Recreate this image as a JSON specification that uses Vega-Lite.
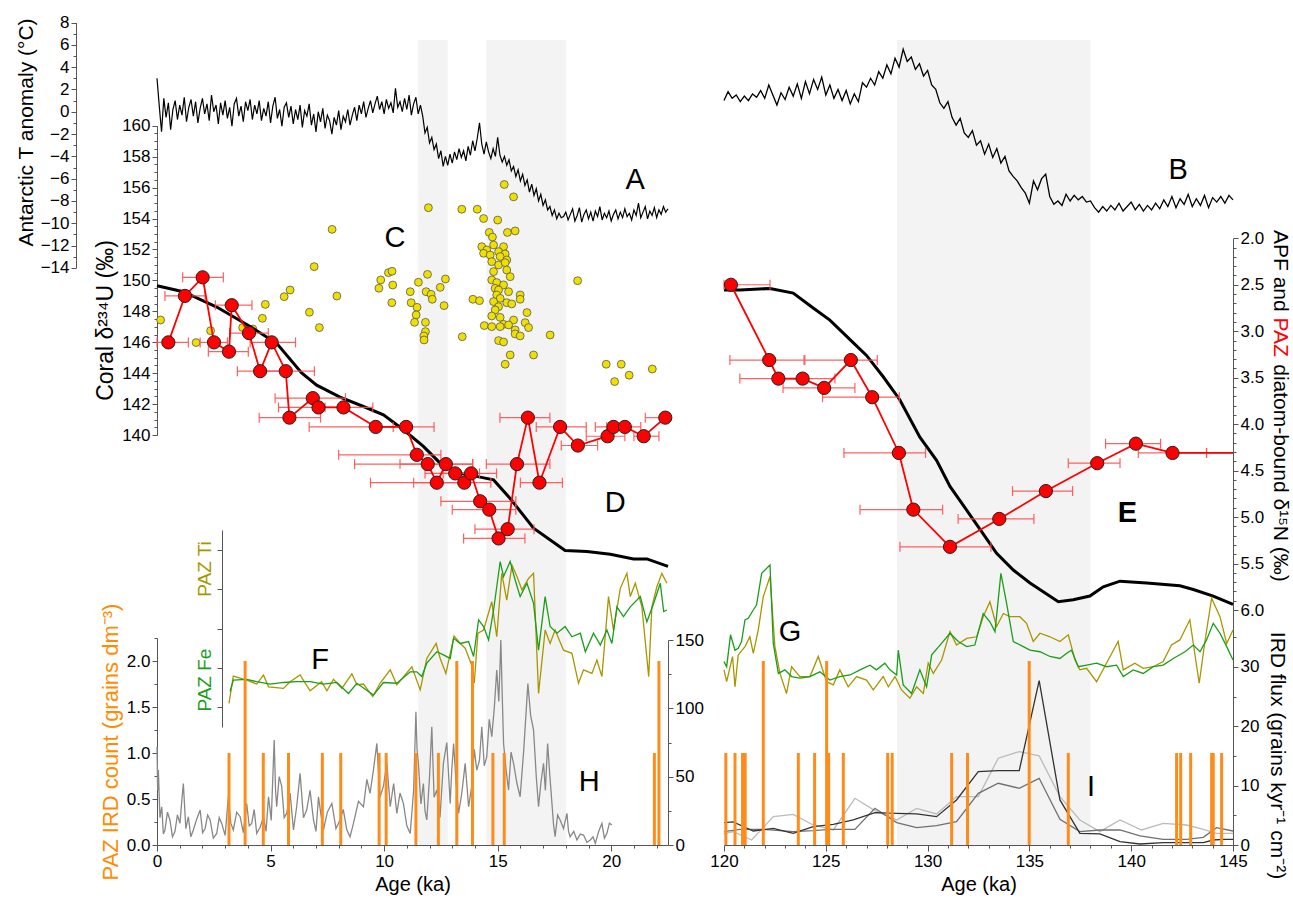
{
"$schema":"https://vega.github.io/schema/vega-lite/v6.json",
"width":1076,"height":845,
"autosize":{"type":"none"},
"padding":{"left":157,"top":0,"right":60,"bottom":54},
"config":{"view":{"stroke":null},"axis":{"grid":false,"labelFont":"Liberation Sans","titleFont":"Liberation Sans","labelFontSize":17,"titleFontSize":20,"titleFontWeight":"normal","domainColor":"#555","tickColor":"#555","labelColor":"#000","titleColor":"#000","tickSize":5,"labelOverlap":false,"labelFlush":false}},
"resolve":{"scale":{"x":"independent","y":"independent"}},
"datasets":{
"shL":[{"x1":11.5,"x2":12.8},{"x1":14.5,"x2":18.0}],
"shR":[{"x1":128.5,"x2":138.0}],
"tA":[{"a":0.0,"t":3.0},{"a":0.1,"t":0.5},{"a":0.2,"t":-1.8},{"a":0.3,"t":1.2},{"a":0.4,"t":-0.5},{"a":0.5,"t":0.8},{"a":0.6,"t":-1.6},{"a":0.7,"t":0.2},{"a":0.8,"t":1.0},{"a":0.9,"t":-0.7},{"a":1.0,"t":0.6},{"a":1.1,"t":-0.3},{"a":1.2,"t":1.3},{"a":1.3,"t":-0.9},{"a":1.4,"t":0.4},{"a":1.5,"t":1.1},{"a":1.6,"t":-0.4},{"a":1.7,"t":0.9},{"a":1.8,"t":-1.0},{"a":1.9,"t":0.3},{"a":2.0,"t":1.2},{"a":2.1,"t":-0.2},{"a":2.2,"t":0.7},{"a":2.3,"t":-0.8},{"a":2.4,"t":1.5},{"a":2.5,"t":0.0},{"a":2.6,"t":0.6},{"a":2.7,"t":-1.1},{"a":2.8,"t":0.8},{"a":2.9,"t":-0.3},{"a":3.0,"t":1.0},{"a":3.1,"t":-0.6},{"a":3.2,"t":0.4},{"a":3.3,"t":-1.3},{"a":3.4,"t":0.7},{"a":3.5,"t":1.2},{"a":3.6,"t":-0.4},{"a":3.7,"t":0.5},{"a":3.8,"t":-0.9},{"a":3.9,"t":0.9},{"a":4.0,"t":0.1},{"a":4.1,"t":1.1},{"a":4.2,"t":-0.7},{"a":4.3,"t":0.6},{"a":4.4,"t":-0.2},{"a":4.5,"t":1.0},{"a":4.6,"t":-0.8},{"a":4.7,"t":0.3},{"a":4.8,"t":-0.4},{"a":4.9,"t":0.9},{"a":5.0,"t":-1.0},{"a":5.1,"t":0.5},{"a":5.2,"t":1.3},{"a":5.3,"t":-0.6},{"a":5.4,"t":0.2},{"a":5.5,"t":-1.3},{"a":5.6,"t":0.4},{"a":5.7,"t":0.8},{"a":5.8,"t":-0.5},{"a":5.9,"t":0.5},{"a":6.0,"t":-1.1},{"a":6.1,"t":0.2},{"a":6.2,"t":-0.7},{"a":6.3,"t":0.6},{"a":6.4,"t":-1.4},{"a":6.5,"t":0.1},{"a":6.6,"t":-0.4},{"a":6.7,"t":0.7},{"a":6.8,"t":-1.2},{"a":6.9,"t":-0.2},{"a":7.0,"t":-1.8},{"a":7.1,"t":0.0},{"a":7.2,"t":-0.9},{"a":7.3,"t":0.3},{"a":7.4,"t":-1.5},{"a":7.5,"t":-0.3},{"a":7.6,"t":-0.8},{"a":7.7,"t":-2.0},{"a":7.8,"t":-0.5},{"a":7.9,"t":-1.2},{"a":8.0,"t":0.1},{"a":8.1,"t":-1.6},{"a":8.2,"t":-0.4},{"a":8.3,"t":-0.9},{"a":8.4,"t":0.2},{"a":8.5,"t":-1.2},{"a":8.6,"t":-0.3},{"a":8.7,"t":0.4},{"a":8.8,"t":-0.8},{"a":8.9,"t":0.6},{"a":9.0,"t":-0.2},{"a":9.1,"t":0.9},{"a":9.2,"t":-0.5},{"a":9.3,"t":0.3},{"a":9.4,"t":1.0},{"a":9.5,"t":-0.1},{"a":9.6,"t":0.7},{"a":9.7,"t":1.4},{"a":9.8,"t":0.2},{"a":9.9,"t":0.9},{"a":10.0,"t":-0.2},{"a":10.1,"t":1.1},{"a":10.2,"t":0.3},{"a":10.3,"t":0.8},{"a":10.4,"t":-0.1},{"a":10.5,"t":2.1},{"a":10.6,"t":0.4},{"a":10.7,"t":0.9},{"a":10.8,"t":0.0},{"a":10.9,"t":1.2},{"a":11.0,"t":0.2},{"a":11.1,"t":1.5},{"a":11.2,"t":-0.3},{"a":11.3,"t":0.7},{"a":11.4,"t":1.3},{"a":11.5,"t":-0.2},{"a":11.6,"t":0.6},{"a":11.7,"t":-0.4},{"a":11.8,"t":-1.9},{"a":11.9,"t":-1.4},{"a":12.0,"t":-2.8},{"a":12.1,"t":-2.3},{"a":12.2,"t":-3.4},{"a":12.3,"t":-2.9},{"a":12.4,"t":-4.2},{"a":12.5,"t":-3.5},{"a":12.6,"t":-4.9},{"a":12.7,"t":-4.0},{"a":12.8,"t":-4.8},{"a":12.9,"t":-3.8},{"a":13.0,"t":-4.6},{"a":13.1,"t":-3.6},{"a":13.2,"t":-4.3},{"a":13.3,"t":-3.3},{"a":13.4,"t":-4.1},{"a":13.5,"t":-3.5},{"a":13.6,"t":-4.4},{"a":13.7,"t":-3.1},{"a":13.8,"t":-3.9},{"a":13.9,"t":-2.6},{"a":14.0,"t":-3.5},{"a":14.1,"t":-2.4},{"a":14.2,"t":-1.0},{"a":14.3,"t":-2.9},{"a":14.4,"t":-3.8},{"a":14.5,"t":-2.7},{"a":14.6,"t":-3.6},{"a":14.7,"t":-4.2},{"a":14.8,"t":-3.3},{"a":14.9,"t":-4.0},{"a":15.0,"t":-2.3},{"a":15.1,"t":-3.9},{"a":15.2,"t":-4.5},{"a":15.3,"t":-4.0},{"a":15.4,"t":-4.8},{"a":15.5,"t":-4.3},{"a":15.6,"t":-5.3},{"a":15.7,"t":-4.9},{"a":15.8,"t":-5.8},{"a":15.9,"t":-5.2},{"a":16.0,"t":-6.2},{"a":16.1,"t":-5.6},{"a":16.2,"t":-6.6},{"a":16.3,"t":-6.1},{"a":16.4,"t":-7.2},{"a":16.5,"t":-6.5},{"a":16.6,"t":-7.5},{"a":16.7,"t":-6.9},{"a":16.8,"t":-8.0},{"a":16.9,"t":-7.4},{"a":17.0,"t":-8.4},{"a":17.1,"t":-7.9},{"a":17.2,"t":-8.8},{"a":17.3,"t":-8.5},{"a":17.4,"t":-9.3},{"a":17.5,"t":-8.8},{"a":17.6,"t":-9.6},{"a":17.7,"t":-9.1},{"a":17.8,"t":-9.5},{"a":17.9,"t":-9.4},{"a":18.0,"t":-9.0},{"a":18.1,"t":-9.7},{"a":18.2,"t":-9.2},{"a":18.3,"t":-8.7},{"a":18.4,"t":-9.8},{"a":18.5,"t":-9.3},{"a":18.6,"t":-8.6},{"a":18.7,"t":-9.9},{"a":18.8,"t":-9.2},{"a":18.9,"t":-8.8},{"a":19.0,"t":-9.6},{"a":19.1,"t":-9.0},{"a":19.2,"t":-9.8},{"a":19.3,"t":-8.9},{"a":19.4,"t":-9.4},{"a":19.5,"t":-8.5},{"a":19.6,"t":-9.7},{"a":19.7,"t":-9.1},{"a":19.8,"t":-9.5},{"a":19.9,"t":-8.9},{"a":20.0,"t":-9.8},{"a":20.1,"t":-9.2},{"a":20.2,"t":-8.8},{"a":20.3,"t":-9.6},{"a":20.4,"t":-9.0},{"a":20.5,"t":-9.5},{"a":20.6,"t":-8.7},{"a":20.7,"t":-9.4},{"a":20.8,"t":-9.1},{"a":20.9,"t":-9.7},{"a":21.0,"t":-8.8},{"a":21.1,"t":-9.3},{"a":21.2,"t":-8.2},{"a":21.3,"t":-9.5},{"a":21.4,"t":-9.0},{"a":21.5,"t":-8.5},{"a":21.6,"t":-9.6},{"a":21.7,"t":-8.9},{"a":21.8,"t":-9.3},{"a":21.9,"t":-8.6},{"a":22.0,"t":-9.5},{"a":22.1,"t":-8.8},{"a":22.2,"t":-9.2},{"a":22.3,"t":-8.5},{"a":22.4,"t":-9.0},{"a":22.5,"t":-8.7}],
"tB":[{"a":120.0,"t":1.0},{"a":120.2,"t":1.8},{"a":120.4,"t":1.2},{"a":120.6,"t":1.5},{"a":120.8,"t":0.9},{"a":121.0,"t":1.4},{"a":121.2,"t":1.0},{"a":121.4,"t":1.6},{"a":121.6,"t":1.3},{"a":121.8,"t":1.9},{"a":122.0,"t":1.2},{"a":122.2,"t":2.4},{"a":122.4,"t":1.5},{"a":122.6,"t":0.6},{"a":122.8,"t":1.7},{"a":123.0,"t":1.1},{"a":123.2,"t":2.2},{"a":123.4,"t":1.4},{"a":123.6,"t":2.5},{"a":123.8,"t":1.2},{"a":124.0,"t":2.7},{"a":124.2,"t":1.6},{"a":124.4,"t":2.9},{"a":124.6,"t":2.0},{"a":124.8,"t":3.1},{"a":125.0,"t":1.5},{"a":125.2,"t":2.4},{"a":125.4,"t":1.2},{"a":125.6,"t":2.0},{"a":125.8,"t":1.0},{"a":126.0,"t":1.9},{"a":126.2,"t":0.7},{"a":126.4,"t":1.6},{"a":126.6,"t":0.9},{"a":126.8,"t":2.6},{"a":127.0,"t":2.2},{"a":127.2,"t":3.0},{"a":127.4,"t":2.4},{"a":127.6,"t":3.6},{"a":127.8,"t":3.0},{"a":128.0,"t":4.2},{"a":128.2,"t":3.4},{"a":128.4,"t":4.8},{"a":128.6,"t":4.0},{"a":128.8,"t":5.6},{"a":129.0,"t":4.5},{"a":129.2,"t":4.9},{"a":129.4,"t":3.8},{"a":129.6,"t":4.3},{"a":129.8,"t":3.2},{"a":130.0,"t":3.7},{"a":130.2,"t":2.4},{"a":130.4,"t":2.0},{"a":130.6,"t":0.8},{"a":130.8,"t":0.3},{"a":131.0,"t":0.9},{"a":131.2,"t":-0.5},{"a":131.4,"t":-1.2},{"a":131.6,"t":-0.6},{"a":131.8,"t":-1.9},{"a":132.0,"t":-2.3},{"a":132.2,"t":-1.7},{"a":132.4,"t":-3.0},{"a":132.6,"t":-2.6},{"a":132.8,"t":-3.8},{"a":133.0,"t":-2.9},{"a":133.2,"t":-4.1},{"a":133.4,"t":-3.3},{"a":133.6,"t":-4.6},{"a":133.8,"t":-4.0},{"a":134.0,"t":-5.3},{"a":134.2,"t":-5.8},{"a":134.4,"t":-6.2},{"a":134.6,"t":-6.8},{"a":134.8,"t":-7.3},{"a":135.0,"t":-8.2},{"a":135.2,"t":-6.2},{"a":135.4,"t":-7.0},{"a":135.6,"t":-6.0},{"a":135.8,"t":-5.6},{"a":136.0,"t":-7.6},{"a":136.2,"t":-8.3},{"a":136.4,"t":-8.0},{"a":136.6,"t":-8.4},{"a":136.8,"t":-7.4},{"a":137.0,"t":-8.0},{"a":137.2,"t":-7.5},{"a":137.4,"t":-7.9},{"a":137.6,"t":-7.6},{"a":137.8,"t":-8.1},{"a":138.0,"t":-8.0},{"a":138.2,"t":-8.6},{"a":138.4,"t":-9.0},{"a":138.6,"t":-8.5},{"a":138.8,"t":-8.9},{"a":139.0,"t":-8.4},{"a":139.2,"t":-8.8},{"a":139.4,"t":-8.2},{"a":139.6,"t":-8.9},{"a":139.8,"t":-8.5},{"a":140.0,"t":-8.1},{"a":140.2,"t":-8.8},{"a":140.4,"t":-8.3},{"a":140.6,"t":-8.9},{"a":140.8,"t":-8.4},{"a":141.0,"t":-8.8},{"a":141.2,"t":-8.2},{"a":141.4,"t":-8.7},{"a":141.6,"t":-7.9},{"a":141.8,"t":-8.5},{"a":142.0,"t":-7.6},{"a":142.2,"t":-8.6},{"a":142.4,"t":-7.8},{"a":142.6,"t":-8.3},{"a":142.8,"t":-7.4},{"a":143.0,"t":-8.5},{"a":143.2,"t":-7.8},{"a":143.4,"t":-8.4},{"a":143.6,"t":-7.5},{"a":143.8,"t":-8.6},{"a":144.0,"t":-7.7},{"a":144.2,"t":-8.1},{"a":144.4,"t":-7.6},{"a":144.6,"t":-8.2},{"a":144.8,"t":-7.5},{"a":145.0,"t":-7.9}],
"coral":[{"a":15.29,"u":156.2},{"a":15.7,"u":155.4},{"a":11.95,"u":154.7},{"a":13.42,"u":154.6},{"a":14.1,"u":154.6},{"a":14.38,"u":154.0},{"a":15.0,"u":153.9},{"a":14.63,"u":153.1},{"a":14.77,"u":152.8},{"a":15.43,"u":153.1},{"a":15.77,"u":153.2},{"a":7.71,"u":153.3},{"a":14.30,"u":152.18},{"a":14.52,"u":151.97},{"a":14.82,"u":152.29},{"a":15.26,"u":152.18},{"a":14.38,"u":151.75},{"a":15.04,"u":151.86},{"a":15.33,"u":151.71},{"a":14.67,"u":151.64},{"a":15.11,"u":151.54},{"a":15.40,"u":151.32},{"a":14.74,"u":151.21},{"a":15.04,"u":151.0},{"a":15.33,"u":151.15},{"a":14.82,"u":150.57},{"a":15.40,"u":150.67},{"a":15.55,"u":150.24},{"a":14.74,"u":150.03},{"a":14.96,"u":149.86},{"a":15.26,"u":149.71},{"a":14.89,"u":149.49},{"a":15.04,"u":149.38},{"a":15.48,"u":149.27},{"a":14.96,"u":149.06},{"a":15.11,"u":148.84},{"a":15.99,"u":149.06},{"a":15.99,"u":148.78},{"a":14.82,"u":148.63},{"a":15.40,"u":148.56},{"a":15.62,"u":148.48},{"a":15.04,"u":148.30},{"a":14.89,"u":148.09},{"a":14.74,"u":147.70},{"a":15.11,"u":147.61},{"a":15.70,"u":147.44},{"a":16.29,"u":147.92},{"a":16.21,"u":147.27},{"a":15.26,"u":147.16},{"a":15.11,"u":147.01},{"a":15.48,"u":147.12},{"a":14.41,"u":147.08},{"a":14.74,"u":147.01},{"a":15.77,"u":146.80},{"a":16.36,"u":146.95},{"a":15.77,"u":146.54},{"a":15.99,"u":146.41},{"a":15.04,"u":146.11},{"a":15.26,"u":146.02},{"a":15.55,"u":145.18},{"a":16.58,"u":145.18},{"a":15.33,"u":144.58},{"a":17.31,"u":146.47},{"a":18.52,"u":149.98},{"a":13.91,"u":148.78},{"a":14.20,"u":148.69},{"a":13.44,"u":146.36},{"a":9.85,"u":150.03},{"a":9.77,"u":149.49},{"a":10.19,"u":150.50},{"a":10.35,"u":150.59},{"a":10.38,"u":149.70},{"a":10.34,"u":148.56},{"a":11.15,"u":149.27},{"a":11.51,"u":149.88},{"a":11.91,"u":150.39},{"a":11.85,"u":149.27},{"a":12.07,"u":149.10},{"a":12.12,"u":148.78},{"a":12.47,"u":149.55},{"a":12.70,"u":150.09},{"a":12.64,"u":148.37},{"a":11.19,"u":148.56},{"a":11.45,"u":148.26},{"a":11.41,"u":147.77},{"a":11.34,"u":147.29},{"a":11.82,"u":147.29},{"a":11.82,"u":146.69},{"a":11.75,"u":146.41},{"a":11.76,"u":146.15},{"a":0.16,"u":147.44},{"a":1.72,"u":145.98},{"a":2.36,"u":146.75},{"a":3.77,"u":146.95},{"a":4.22,"u":146.86},{"a":4.64,"u":147.55},{"a":4.77,"u":148.45},{"a":5.60,"u":148.95},{"a":5.86,"u":149.38},{"a":6.71,"u":147.94},{"a":7.15,"u":146.95},{"a":6.92,"u":150.89},{"a":7.92,"u":148.99},{"a":19.78,"u":144.58},{"a":20.44,"u":144.58},{"a":20.79,"u":143.87},{"a":20.15,"u":143.46},{"a":21.81,"u":144.27}],
"dL":[{"a":0.50,"n":3.12,"lo":0.0,"hi":1.38},{"a":1.23,"n":2.62,"lo":0.35,"hi":2.12},{"a":2.01,"n":2.42,"lo":1.13,"hi":2.92},{"a":2.51,"n":3.12,"lo":1.9,"hi":3.1},{"a":3.17,"n":3.22,"lo":2.26,"hi":4.02},{"a":3.29,"n":2.72,"lo":2.57,"hi":4.18},{"a":4.05,"n":3.02,"lo":3.2,"hi":4.9},{"a":4.54,"n":3.43,"lo":3.54,"hi":5.6},{"a":5.05,"n":3.12,"lo":4.1,"hi":6.1},{"a":5.67,"n":3.43,"lo":4.6,"hi":6.93},{"a":5.83,"n":3.93,"lo":4.5,"hi":7.2},{"a":6.86,"n":3.72,"lo":5.2,"hi":8.3},{"a":7.11,"n":3.82,"lo":5.35,"hi":8.4},{"a":8.21,"n":3.82,"lo":7.4,"hi":9.5},{"a":9.63,"n":4.03,"lo":6.7,"hi":10.4},{"a":10.97,"n":4.03,"lo":9.7,"hi":12.2},{"a":11.44,"n":4.33,"lo":8.0,"hi":12.5},{"a":11.92,"n":4.43,"lo":8.7,"hi":13.9},{"a":12.32,"n":4.63,"lo":9.4,"hi":13.5},{"a":12.72,"n":4.43,"lo":10.7,"hi":13.9},{"a":13.13,"n":4.53,"lo":11.8,"hi":14.2},{"a":13.53,"n":4.63,"lo":11.3,"hi":14.7},{"a":13.83,"n":4.53,"lo":12.6,"hi":14.95},{"a":14.23,"n":4.83,"lo":12.5,"hi":15.8},{"a":14.63,"n":4.92,"lo":13.0,"hi":15.8},{"a":15.04,"n":5.23,"lo":13.5,"hi":16.2},{"a":15.44,"n":5.13,"lo":14.0,"hi":16.6},{"a":15.85,"n":4.43,"lo":14.5,"hi":17.3},{"a":16.33,"n":3.93,"lo":15.1,"hi":17.3},{"a":16.84,"n":4.63,"lo":16.0,"hi":17.85},{"a":17.75,"n":4.03,"lo":16.7,"hi":18.9},{"a":18.53,"n":4.23,"lo":17.8,"hi":19.4},{"a":19.84,"n":4.13,"lo":18.9,"hi":20.6},{"a":20.10,"n":4.03,"lo":19.3,"hi":20.8},{"a":20.60,"n":4.03,"lo":19.8,"hi":21.3},{"a":21.43,"n":4.13,"lo":21.0,"hi":22.1},{"a":22.38,"n":3.93,"lo":21.5,"hi":22.5}],
"dR":[{"a":120.34,"n":2.50,"lo":120.0,"hi":122.26},{"a":122.22,"n":3.31,"lo":120.29,"hi":123.93},{"a":122.67,"n":3.51,"lo":120.78,"hi":124.1},{"a":123.86,"n":3.51,"lo":122.9,"hi":125.45},{"a":124.92,"n":3.61,"lo":122.9,"hi":126.43},{"a":126.23,"n":3.31,"lo":123.97,"hi":127.53},{"a":127.28,"n":3.71,"lo":124.84,"hi":128.61},{"a":128.59,"n":4.31,"lo":125.89,"hi":129.9},{"a":129.30,"n":4.92,"lo":126.68,"hi":130.74},{"a":131.1,"n":5.32,"lo":128.64,"hi":133.11},{"a":133.52,"n":5.02,"lo":131.5,"hi":135.22},{"a":135.81,"n":4.72,"lo":134.17,"hi":137.12},{"a":138.33,"n":4.42,"lo":136.91,"hi":139.45},{"a":140.23,"n":4.21,"lo":138.74,"hi":141.44},{"a":142.03,"n":4.31,"lo":140.35,"hi":143.7},{"a":146.5,"n":4.31,"lo":143.7,"hi":149.0}],
"apfL":[{"a":0,"n":2.51},{"a":1.16,"n":2.575},{"a":2.63,"n":2.74},{"a":4.10,"n":2.95},{"a":5.27,"n":3.13},{"a":6.37,"n":3.45},{"a":7.03,"n":3.58},{"a":8.06,"n":3.71},{"a":9.09,"n":3.81},{"a":9.97,"n":3.90},{"a":10.85,"n":4.06},{"a":11.73,"n":4.24},{"a":12.47,"n":4.42},{"a":13.35,"n":4.53},{"a":14.23,"n":4.57},{"a":14.82,"n":4.60},{"a":15.55,"n":4.80},{"a":16.58,"n":5.12},{"a":17.97,"n":5.36},{"a":18.93,"n":5.37},{"a":19.96,"n":5.40},{"a":20.98,"n":5.45},{"a":21.57,"n":5.45},{"a":22.5,"n":5.53}],
"apfR":[{"a":120,"n":2.556},{"a":120.78,"n":2.556},{"a":122.26,"n":2.54},{"a":123.4,"n":2.59},{"a":124.38,"n":2.75},{"a":125.2,"n":2.88},{"a":126.19,"n":3.09},{"a":127.0,"n":3.26},{"a":127.82,"n":3.49},{"a":128.64,"n":3.74},{"a":129.62,"n":4.14},{"a":130.44,"n":4.39},{"a":131.1,"n":4.67},{"a":131.9,"n":4.92},{"a":132.73,"n":5.18},{"a":133.39,"n":5.39},{"a":134.21,"n":5.57},{"a":135.03,"n":5.71},{"a":136.42,"n":5.91},{"a":137.15,"n":5.89},{"a":137.97,"n":5.85},{"a":138.63,"n":5.75},{"a":139.45,"n":5.69},{"a":140.76,"n":5.71},{"a":142.39,"n":5.74},{"a":143.05,"n":5.78},{"a":144.03,"n":5.85},{"a":145,"n":5.94}],
"feL":[{"a":3.22,"v":0.90},{"a":3.36,"v":1.19},{"a":3.95,"v":1.21},{"a":4.39,"v":1.15},{"a":4.98,"v":1.09},{"a":5.57,"v":1.13},{"a":6.15,"v":1.15},{"a":6.74,"v":1.15},{"a":7.33,"v":1.09},{"a":7.92,"v":1.13},{"a":8.43,"v":0.85},{"a":8.80,"v":1.11},{"a":9.53,"v":0.81},{"a":9.97,"v":1.13},{"a":10.56,"v":1.11},{"a":11.15,"v":1.40},{"a":11.44,"v":1.40},{"a":11.66,"v":1.28},{"a":11.88,"v":1.62},{"a":12.32,"v":1.91},{"a":12.61,"v":1.83},{"a":12.91,"v":1.74},{"a":13.06,"v":2.25},{"a":13.35,"v":2.12},{"a":13.72,"v":2.17},{"a":13.94,"v":1.79},{"a":14.16,"v":2.72},{"a":14.38,"v":2.55},{"a":14.60,"v":2.21},{"a":14.82,"v":2.97},{"a":15.11,"v":4.20},{"a":15.26,"v":3.82},{"a":15.55,"v":4.20},{"a":15.77,"v":3.73},{"a":15.99,"v":3.31},{"a":16.29,"v":3.65},{"a":16.58,"v":3.14},{"a":16.80,"v":1.95},{"a":17.09,"v":3.31},{"a":17.31,"v":2.55},{"a":17.61,"v":2.38},{"a":17.97,"v":2.55},{"a":18.27,"v":2.29},{"a":18.64,"v":2.38},{"a":18.86,"v":1.91},{"a":19.22,"v":2.38},{"a":19.52,"v":2.08},{"a":19.81,"v":2.46},{"a":20.03,"v":2.12},{"a":20.25,"v":3.05},{"a":20.54,"v":2.80},{"a":20.84,"v":3.05},{"a":21.28,"v":3.31},{"a":21.57,"v":2.67},{"a":21.87,"v":3.14},{"a":22.16,"v":3.65},{"a":22.31,"v":2.93},{"a":22.45,"v":2.97}],
"tiL":[{"a":3.17,"v":0.60},{"a":3.36,"v":1.29},{"a":3.95,"v":1.19},{"a":4.39,"v":1.09},{"a":4.69,"v":1.32},{"a":4.91,"v":1.02},{"a":5.57,"v":0.98},{"a":5.86,"v":1.15},{"a":6.30,"v":1.32},{"a":6.74,"v":0.92},{"a":7.25,"v":1.15},{"a":7.48,"v":0.92},{"a":7.77,"v":1.21},{"a":8.14,"v":0.98},{"a":8.58,"v":1.35},{"a":8.80,"v":1.07},{"a":9.09,"v":1.09},{"a":9.50,"v":0.77},{"a":9.82,"v":1.11},{"a":10.27,"v":1.45},{"a":10.56,"v":1.07},{"a":11.22,"v":1.53},{"a":11.59,"v":0.94},{"a":11.88,"v":1.74},{"a":12.29,"v":2.12},{"a":12.47,"v":1.74},{"a":12.72,"v":1.36},{"a":13.08,"v":2.31},{"a":13.35,"v":2.12},{"a":13.57,"v":2.0},{"a":13.86,"v":1.57},{"a":13.97,"v":1.11},{"a":14.13,"v":2.38},{"a":14.38,"v":2.46},{"a":14.74,"v":3.18},{"a":14.96,"v":2.29},{"a":15.18,"v":3.90},{"a":15.40,"v":3.22},{"a":15.63,"v":4.11},{"a":15.85,"v":3.82},{"a":16.07,"v":3.48},{"a":16.36,"v":3.77},{"a":16.58,"v":3.90},{"a":16.80,"v":0.85},{"a":17.09,"v":2.46},{"a":17.31,"v":2.12},{"a":17.53,"v":2.46},{"a":17.90,"v":1.95},{"a":18.27,"v":1.87},{"a":18.56,"v":1.11},{"a":18.78,"v":1.45},{"a":19.15,"v":1.36},{"a":19.37,"v":1.70},{"a":19.59,"v":1.28},{"a":19.88,"v":3.31},{"a":20.10,"v":2.46},{"a":20.40,"v":3.52},{"a":20.69,"v":3.90},{"a":20.84,"v":3.31},{"a":21.06,"v":3.65},{"a":21.35,"v":3.05},{"a":21.65,"v":1.28},{"a":21.79,"v":3.05},{"a":22.01,"v":3.56},{"a":22.23,"v":3.90},{"a":22.45,"v":3.65}],
"feR":[{"a":120.0,"v":1.66},{"a":120.13,"v":1.53},{"a":120.32,"v":2.34},{"a":120.54,"v":1.95},{"a":120.70,"v":2.0},{"a":120.86,"v":2.17},{"a":121.03,"v":2.72},{"a":121.19,"v":2.76},{"a":121.44,"v":2.97},{"a":121.60,"v":3.10},{"a":121.85,"v":3.90},{"a":122.26,"v":4.11},{"a":122.42,"v":2.12},{"a":122.67,"v":1.36},{"a":122.99,"v":1.45},{"a":123.32,"v":1.28},{"a":123.73,"v":1.24},{"a":124.22,"v":1.28},{"a":124.71,"v":1.40},{"a":125.20,"v":1.19},{"a":125.69,"v":1.28},{"a":126.19,"v":1.32},{"a":126.68,"v":1.45},{"a":127.17,"v":1.57},{"a":127.49,"v":1.45},{"a":127.90,"v":1.62},{"a":128.15,"v":1.45},{"a":128.48,"v":1.32},{"a":128.56,"v":1.95},{"a":128.80,"v":1.07},{"a":129.21,"v":0.85},{"a":129.62,"v":1.45},{"a":129.95,"v":1.02},{"a":130.20,"v":1.83},{"a":130.61,"v":2.08},{"a":131.10,"v":2.38},{"a":131.51,"v":2.17},{"a":131.92,"v":2.04},{"a":132.32,"v":2.08},{"a":132.73,"v":2.88},{"a":133.06,"v":2.67},{"a":133.31,"v":2.42},{"a":133.60,"v":3.90},{"a":133.88,"v":3.14},{"a":134.21,"v":2.17},{"a":134.70,"v":2.04},{"a":135.03,"v":1.95},{"a":135.52,"v":1.91},{"a":136.01,"v":1.79},{"a":136.50,"v":1.74},{"a":136.83,"v":1.87},{"a":137.07,"v":1.95},{"a":137.40,"v":1.53},{"a":137.81,"v":1.57},{"a":138.30,"v":1.62},{"a":138.79,"v":1.53},{"a":139.28,"v":1.57},{"a":139.61,"v":1.28},{"a":140.10,"v":1.45},{"a":140.59,"v":1.36},{"a":141.08,"v":1.53},{"a":141.57,"v":1.57},{"a":142.07,"v":1.74},{"a":142.64,"v":1.91},{"a":143.05,"v":2.08},{"a":143.38,"v":1.91},{"a":143.70,"v":2.21},{"a":144.03,"v":2.63},{"a":144.36,"v":2.38},{"a":144.69,"v":2.04},{"a":145.0,"v":1.70}],
"tiR":[{"a":120.0,"v":1.45},{"a":120.13,"v":1.15},{"a":120.42,"v":1.79},{"a":120.54,"v":1.02},{"a":120.70,"v":1.83},{"a":121.03,"v":2.04},{"a":121.27,"v":2.29},{"a":121.44,"v":1.87},{"a":121.68,"v":2.46},{"a":121.93,"v":3.31},{"a":122.26,"v":3.82},{"a":122.50,"v":2.04},{"a":122.75,"v":1.36},{"a":123.07,"v":0.85},{"a":123.32,"v":1.53},{"a":123.73,"v":1.28},{"a":124.22,"v":1.28},{"a":124.63,"v":1.79},{"a":125.04,"v":1.15},{"a":125.37,"v":1.07},{"a":125.69,"v":1.45},{"a":126.10,"v":1.02},{"a":126.51,"v":1.28},{"a":127.00,"v":1.19},{"a":127.33,"v":0.94},{"a":127.82,"v":1.28},{"a":128.07,"v":1.02},{"a":128.40,"v":1.28},{"a":128.72,"v":0.94},{"a":129.13,"v":0.73},{"a":129.46,"v":1.02},{"a":129.79,"v":0.85},{"a":130.03,"v":1.62},{"a":130.28,"v":1.36},{"a":130.69,"v":1.70},{"a":131.10,"v":2.42},{"a":131.42,"v":2.08},{"a":131.92,"v":2.25},{"a":132.41,"v":2.29},{"a":132.73,"v":2.80},{"a":133.06,"v":3.18},{"a":133.39,"v":2.55},{"a":133.72,"v":2.88},{"a":134.04,"v":2.80},{"a":134.53,"v":2.80},{"a":134.86,"v":2.63},{"a":135.19,"v":2.17},{"a":135.52,"v":2.38},{"a":136.01,"v":2.29},{"a":136.50,"v":2.17},{"a":136.91,"v":2.34},{"a":137.24,"v":1.70},{"a":137.48,"v":1.45},{"a":137.81,"v":1.49},{"a":138.30,"v":1.15},{"a":138.87,"v":1.70},{"a":139.36,"v":2.17},{"a":139.61,"v":1.45},{"a":140.18,"v":1.62},{"a":140.59,"v":1.49},{"a":141.08,"v":1.53},{"a":141.57,"v":1.66},{"a":141.98,"v":2.08},{"a":142.39,"v":2.21},{"a":142.88,"v":2.72},{"a":143.05,"v":2.12},{"a":143.34,"v":1.11},{"a":143.62,"v":2.17},{"a":143.95,"v":3.27},{"a":144.36,"v":2.80},{"a":144.69,"v":2.12},{"a":145.0,"v":2.46}],
"hL":[{"a":0.0,"h":71.9},{"a":0.03,"h":40},{"a":0.06,"h":54.8},{"a":0.13,"h":20},{"a":0.21,"h":28},{"a":0.28,"h":8},{"a":0.35,"h":11},{"a":0.46,"h":24},{"a":0.57,"h":18.3},{"a":0.68,"h":6},{"a":0.79,"h":9.8},{"a":0.9,"h":22},{"a":1.01,"h":15.8},{"a":1.08,"h":30},{"a":1.16,"h":45},{"a":1.27,"h":12},{"a":1.38,"h":20.7},{"a":1.49,"h":6},{"a":1.60,"h":11},{"a":1.75,"h":19},{"a":1.90,"h":25.6},{"a":2.01,"h":9},{"a":2.12,"h":12.1},{"a":2.23,"h":22},{"a":2.34,"h":18.3},{"a":2.48,"h":5},{"a":2.63,"h":8.5},{"a":2.74,"h":20},{"a":2.85,"h":15.8},{"a":3.0,"h":7},{"a":3.14,"h":35.3},{"a":3.25,"h":16},{"a":3.36,"h":11},{"a":3.51,"h":24},{"a":3.66,"h":20.7},{"a":3.8,"h":9},{"a":3.95,"h":30.4},{"a":4.06,"h":14},{"a":4.17,"h":15.8},{"a":4.28,"h":26},{"a":4.39,"h":8.5},{"a":4.54,"h":13},{"a":4.69,"h":20.7},{"a":4.8,"h":10},{"a":4.91,"h":35.3},{"a":5.03,"h":18},{"a":5.16,"h":76.8},{"a":5.22,"h":40},{"a":5.27,"h":28},{"a":5.38,"h":50},{"a":5.49,"h":43.1},{"a":5.6,"h":20},{"a":5.71,"h":23.1},{"a":5.86,"h":38},{"a":6.01,"h":11},{"a":6.15,"h":28},{"a":6.30,"h":52.4},{"a":6.45,"h":20},{"a":6.59,"h":25.6},{"a":6.74,"h":40},{"a":6.89,"h":18.3},{"a":7.0,"h":10},{"a":7.11,"h":35.3},{"a":7.22,"h":22},{"a":7.33,"h":11},{"a":7.5,"h":24},{"a":7.70,"h":30.4},{"a":7.88,"h":12},{"a":8.06,"h":18.3},{"a":8.2,"h":26},{"a":8.36,"h":11},{"a":8.5,"h":6},{"a":8.65,"h":15.8},{"a":8.87,"h":32},{"a":9.09,"h":28},{"a":9.24,"h":48},{"a":9.38,"h":37.7},{"a":9.53,"h":55},{"a":9.68,"h":74.3},{"a":9.82,"h":35},{"a":9.97,"h":43.1},{"a":10.12,"h":60},{"a":10.27,"h":28},{"a":10.42,"h":45},{"a":10.56,"h":23.1},{"a":10.7,"h":38},{"a":10.85,"h":30.4},{"a":11.0,"h":14},{"a":11.15,"h":8.5},{"a":11.3,"h":40},{"a":11.40,"h":97.5},{"a":11.45,"h":70},{"a":11.51,"h":59.7},{"a":11.62,"h":30},{"a":11.73,"h":45},{"a":11.8,"h":25},{"a":11.88,"h":18.3},{"a":12.0,"h":50},{"a":12.10,"h":86.5},{"a":12.2,"h":35},{"a":12.32,"h":40.2},{"a":12.46,"h":20},{"a":12.61,"h":59.7},{"a":12.76,"h":75},{"a":12.91,"h":30.4},{"a":12.98,"h":55},{"a":13.06,"h":74.3},{"a":13.17,"h":45},{"a":13.28,"h":23.1},{"a":13.42,"h":38},{"a":13.57,"h":59.7},{"a":13.72,"h":28},{"a":13.86,"h":43.1},{"a":13.97,"h":70},{"a":14.08,"h":54.8},{"a":14.2,"h":62},{"a":14.30,"h":86.5},{"a":14.41,"h":58},{"a":14.52,"h":64.5},{"a":14.63,"h":92},{"a":14.74,"h":79.2},{"a":14.85,"h":100},{"a":14.96,"h":128},{"a":15.05,"h":105},{"a":15.14,"h":150},{"a":15.2,"h":110},{"a":15.26,"h":74.3},{"a":15.37,"h":55},{"a":15.48,"h":40.2},{"a":15.59,"h":68},{"a":15.70,"h":59.7},{"a":15.85,"h":45},{"a":15.99,"h":35.3},{"a":16.15,"h":70},{"a":16.33,"h":118.2},{"a":16.45,"h":95},{"a":16.58,"h":84.1},{"a":16.7,"h":50},{"a":16.80,"h":28},{"a":16.9,"h":45},{"a":17.02,"h":59.7},{"a":17.1,"h":40},{"a":17.20,"h":74.3},{"a":17.3,"h":50},{"a":17.39,"h":30.4},{"a":17.46,"h":15},{"a":17.53,"h":6.1},{"a":17.64,"h":22},{"a":17.75,"h":18.3},{"a":17.9,"h":12},{"a":18.05,"h":23.1},{"a":18.12,"h":10},{"a":18.19,"h":6.1},{"a":18.35,"h":10},{"a":18.49,"h":3.7},{"a":18.64,"h":8},{"a":18.78,"h":7.3},{"a":18.93,"h":2},{"a":19.08,"h":3.7},{"a":19.2,"h":6},{"a":19.30,"h":1.2},{"a":19.45,"h":10},{"a":19.59,"h":15.8},{"a":19.7,"h":5},{"a":19.81,"h":8.5},{"a":19.92,"h":16},{"a":20.03,"h":14.6}],
"i1":[{"a":120.0,"f":3.77},{"a":120.45,"f":3.88},{"a":121.44,"f":2.36},{"a":122.42,"f":2.81},{"a":123.40,"f":1.97},{"a":124.38,"f":3.09},{"a":125.37,"f":3.49},{"a":126.35,"f":4.22},{"a":127.41,"f":5.45},{"a":128.48,"f":5.34},{"a":129.46,"f":5.23},{"a":130.44,"f":4.78},{"a":131.42,"f":7.59},{"a":132.49,"f":12.37},{"a":133.47,"f":12.54},{"a":134.50,"f":12.54},{"a":135.48,"f":27.71},{"a":136.50,"f":7.59},{"a":137.48,"f":1.97},{"a":138.46,"f":1.86},{"a":139.45,"f":0.56},{"a":140.43,"f":0.17},{"a":141.57,"f":0.39},{"a":142.72,"f":0.39},{"a":143.54,"f":0.39},{"a":144.03,"f":0.84},{"a":144.52,"f":0.96},{"a":145.0,"f":0.96}],
"i2":[{"a":120.0,"f":2.25},{"a":120.78,"f":2.64},{"a":121.93,"f":2.64},{"a":123.40,"f":2.25},{"a":124.38,"f":2.42},{"a":125.20,"f":2.64},{"a":126.43,"f":2.64},{"a":127.41,"f":6.18},{"a":128.48,"f":3.77},{"a":129.46,"f":2.92},{"a":130.44,"f":3.26},{"a":131.42,"f":3.94},{"a":132.49,"f":8.71},{"a":133.47,"f":10.4},{"a":134.50,"f":9.56},{"a":135.48,"f":11.24},{"a":136.50,"f":4.33},{"a":137.48,"f":2.25},{"a":138.46,"f":2.53},{"a":139.45,"f":2.53},{"a":140.43,"f":1.52},{"a":141.57,"f":0.96},{"a":142.72,"f":0.96},{"a":143.54,"f":1.29},{"a":144.19,"f":2.92},{"a":145.0,"f":2.36}],
"i3":[{"a":120.0,"f":1.86},{"a":120.45,"f":2.25},{"a":121.36,"f":0.84},{"a":122.42,"f":4.78},{"a":123.40,"f":5.17},{"a":124.38,"f":3.37},{"a":125.37,"f":2.53},{"a":126.43,"f":7.87},{"a":127.41,"f":5.79},{"a":128.48,"f":4.22},{"a":129.46,"f":6.18},{"a":130.44,"f":5.23},{"a":131.42,"f":8.15},{"a":132.49,"f":8.15},{"a":133.47,"f":14.62},{"a":134.50,"f":15.74},{"a":135.48,"f":15.01},{"a":136.50,"f":8.15},{"a":137.48,"f":4.22},{"a":138.46,"f":2.25},{"a":139.45,"f":4.22},{"a":140.51,"f":2.53},{"a":141.57,"f":3.65},{"a":142.72,"f":3.37},{"a":143.54,"f":2.64},{"a":144.19,"f":1.97},{"a":145.0,"f":1.97}],
"irdL":[{"a":3.17,"c":1},{"a":3.88,"c":2},{"a":4.68,"c":1},{"a":5.79,"c":1},{"a":7.28,"c":1},{"a":8.09,"c":1},{"a":9.78,"c":1},{"a":10.09,"c":1},{"a":11.40,"c":1},{"a":12.39,"c":1},{"a":13.20,"c":2},{"a":13.89,"c":2},{"a":14.79,"c":1},{"a":15.29,"c":1},{"a":21.90,"c":1},{"a":22.10,"c":2}],
"irdR":[{"a":120.09,"c":1},{"a":120.54,"c":1},{"a":120.91,"c":1},{"a":120.98,"c":1},{"a":121.04,"c":1},{"a":121.93,"c":2},{"a":123.65,"c":1},{"a":124.45,"c":1},{"a":125.04,"c":2},{"a":125.14,"c":1},{"a":125.86,"c":1},{"a":128.04,"c":1},{"a":128.26,"c":1},{"a":131.18,"c":1},{"a":131.96,"c":1},{"a":134.99,"c":2},{"a":136.91,"c":1},{"a":142.23,"c":1},{"a":142.43,"c":1},{"a":142.92,"c":1},{"a":143.95,"c":1},{"a":144.03,"c":1},{"a":144.44,"c":1}],
"labL":[{"a":21.06,"n":1.372,"t":"A"},{"a":10.48,"n":2.0,"t":"C"},{"a":20.18,"n":4.85,"t":"D"},{"a":7.18,"n":6.54,"t":"F"},{"a":19.03,"n":7.85,"t":"H"}],
"labR":[{"a":142.31,"n":1.265,"t":"B"},{"a":123.24,"n":6.235,"t":"G"},{"a":138.03,"n":7.90,"t":"I"}],
"labE":[{"a":139.81,"n":4.96,"t":"E"}],
"rtitle":[{"a":147.31,"n":1.9107,"t":"APF and","c":"#000000"},{"a":147.31,"n":2.8525,"t":"PAZ","c":"#ff0000"},{"a":147.31,"n":3.355,"t":"diatom-bound δ¹⁵N (‰)","c":"#000000"}],
"pazlab":[{"a":2.11,"v":4.01,"t":"PAZ  Ti","c":"#a89600"},{"a":2.11,"v":1.19,"t":"PAZ  Fe","c":"#1a9e1a"}]
},
"layer":[
{"data":{"name":"shL"},"mark":{"type":"rect","color":"#f3f3f3"},"encoding":{"x":{"field":"x1","type":"quantitative","scale":{"domain":[0,22.5],"range":[0,511],"nice":false,"zero":false},"axis":null},"x2":{"field":"x2"},"y":{"datum":0,"type":"quantitative","scale":{"domain":[0,1],"range":[845,40],"nice":false,"zero":false},"axis":null},"y2":{"datum":1}}},
{"data":{"name":"shR"},"mark":{"type":"rect","color":"#f3f3f3"},"encoding":{"x":{"field":"x1","type":"quantitative","scale":{"domain":[120,145],"range":[567,1076],"nice":false,"zero":false},"axis":null},"x2":{"field":"x2"},"y":{"datum":0,"type":"quantitative","scale":{"domain":[0,1],"range":[845,40],"nice":false,"zero":false},"axis":null},"y2":{"datum":1}}},
{"data":{"values":[{}]},"mark":{"type":"point","opacity":0},"encoding":{"x":{"datum":10,"type":"quantitative","scale":{"domain":[0,22.5],"range":[0,511],"nice":false,"zero":false},"axis":{"orient":"bottom","values":[1,2,3,4,6,7,8,9,11,12,13,14,16,17,18,19,21,22],"labels":false,"domain":false,"tickSize":3,"title":null}},"y":{"datum":0,"type":"quantitative","scale":{"domain":[-14,8],"range":[267.9,22.5],"nice":false,"zero":false},"axis":{"orient":"left","offset":81,"values":[7,5,3,1,-1,-3,-5,-7,-9,-11,-13],"labels":false,"domain":false,"tickSize":3,"title":null}}}},
{"data":{"values":[{}]},"mark":{"type":"point","opacity":0},"encoding":{"x":{"datum":130,"type":"quantitative","scale":{"domain":[120,145],"range":[567,1076],"nice":false,"zero":false},"axis":{"orient":"bottom","values":[121,122,123,124,126,127,128,129,131,132,133,134,136,137,138,139,141,142,143,144],"labels":false,"domain":false,"tickSize":3,"title":null}},"y":{"datum":3,"type":"quantitative","scale":{"domain":[2,6],"range":[238.3,610],"nice":false,"zero":false},"axis":{"orient":"right","values":[2.1,2.2,2.3,2.4,2.6,2.7,2.8,2.9,3.1,3.2,3.3,3.4,3.6,3.7,3.8,3.9,4.1,4.2,4.3,4.4,4.6,4.7,4.8,4.9,5.1,5.2,5.3,5.4,5.6,5.7,5.8,5.9],"labels":false,"domain":false,"tickSize":3,"title":null}}}},
{"data":{"values":[{}]},"mark":{"type":"point","opacity":0},"encoding":{"y":{"datum":150,"type":"quantitative","scale":{"domain":[140,160],"range":[435.1,125.7],"nice":false,"zero":false},"axis":{"orient":"left","values":[140.5,141,141.5,142.5,143,143.5,144.5,145,145.5,146.5,147,147.5,148.5,149,149.5,150.5,151,151.5,152.5,153,153.5,154.5,155,155.5,156.5,157,157.5,158.5,159,159.5],"labels":false,"domain":false,"tickSize":3,"title":null}}}},
{"data":{"values":[{}]},"mark":{"type":"point","opacity":0},"encoding":{"y":{"datum":1,"type":"quantitative","scale":{"domain":[0,2.25],"range":[845,638],"nice":false,"zero":false},"axis":{"orient":"left","values":[0.25,0.75,1.25,1.75,2.25],"labels":false,"domain":false,"tickSize":3,"title":null}}}},
{"data":{"values":[{}]},"mark":{"type":"point","opacity":0},"encoding":{"y":{"datum":50,"type":"quantitative","scale":{"domain":[0,150],"range":[845,640],"nice":false,"zero":false},"axis":{"orient":"right","offset":-565,"values":[25,75,125],"labels":false,"domain":false,"tickSize":3,"title":null}}}},
{"data":{"values":[{}]},"mark":{"type":"point","opacity":0},"encoding":{"y":{"datum":10,"type":"quantitative","scale":{"domain":[0,39.6],"range":[845,610],"nice":false,"zero":false},"axis":{"orient":"right","values":[5,15,25,35],"labels":false,"domain":false,"tickSize":3,"title":null}}}},
{"data":{"name":"tA"},"mark":{"type":"line","color":"#000000","strokeWidth":1.2},"encoding":{"x":{"field":"a","type":"quantitative","scale":{"domain":[0,22.5],"range":[0,511],"nice":false,"zero":false},"axis":{"orient":"bottom","values":[0,5,10,15,20],"title":"Age (ka)","tickSize":6,"titlePadding":5}},"y":{"field":"t","type":"quantitative","scale":{"domain":[-14,8],"range":[267.9,22.5],"nice":false,"zero":false},"axis":{"orient":"left","offset":81,"values":[8,6,4,2,0,-2,-4,-6,-8,-10,-12,-14],"title":"Antarctic T anomaly (°C)","titleFontSize":21,"titleY":132}}}},
{"data":{"name":"tB"},"mark":{"type":"line","color":"#000000","strokeWidth":1.3},"encoding":{"x":{"field":"a","type":"quantitative","scale":{"domain":[120,145],"range":[567,1076],"nice":false,"zero":false},"axis":{"orient":"bottom","values":[120,125,130,135,140,145],"title":"Age (ka)","tickSize":6,"titlePadding":5}},"y":{"field":"t","type":"quantitative","scale":{"domain":[-14,8],"range":[267.9,22.5],"nice":false,"zero":false},"axis":null}}},
{"data":{"name":"coral"},"mark":{"type":"point","filled":true,"fill":"#f0e000","stroke":"#555555","strokeWidth":0.8,"size":62,"opacity":1},"encoding":{"x":{"field":"a","type":"quantitative","scale":{"domain":[0,22.5],"range":[0,511],"nice":false,"zero":false},"axis":null},"y":{"field":"u","type":"quantitative","scale":{"domain":[140,160],"range":[435.1,125.7],"nice":false,"zero":false},"axis":{"orient":"left","values":[140,142,144,146,148,150,152,154,156,158,160],"title":"Coral δ²³⁴U (‰)","titleFontSize":23,"titleY":320}}}},
{"data":{"name":"apfL"},"mark":{"type":"line","color":"#000000","strokeWidth":3},"encoding":{"x":{"field":"a","type":"quantitative","scale":{"domain":[0,22.5],"range":[0,511],"nice":false,"zero":false},"axis":null},"y":{"field":"n","type":"quantitative","scale":{"domain":[2,6],"range":[238.3,610],"nice":false,"zero":false},"axis":null}}},
{"data":{"name":"apfR"},"mark":{"type":"line","color":"#000000","strokeWidth":3},"encoding":{"x":{"field":"a","type":"quantitative","scale":{"domain":[120,145],"range":[567,1076],"nice":false,"zero":false},"axis":null},"y":{"field":"n","type":"quantitative","scale":{"domain":[2,6],"range":[238.3,610],"nice":false,"zero":false},"axis":null}}},
{"data":{"name":"dL"},"mark":{"type":"rule","color":"#ff5050","strokeWidth":1.2,"opacity":0.9},"encoding":{"x":{"field":"lo","type":"quantitative","scale":{"domain":[0,22.5],"range":[0,511],"nice":false,"zero":false},"axis":null},"x2":{"field":"hi"},"y":{"field":"n","type":"quantitative","scale":{"domain":[2,6],"range":[238.3,610],"nice":false,"zero":false},"axis":null}}},
{"data":{"name":"dL"},"transform":[{"fold":["lo","hi"],"as":["k","e"]}],"mark":{"type":"tick","orient":"vertical","color":"#ff5050","size":10,"thickness":1.2,"opacity":0.9},"encoding":{"x":{"field":"e","type":"quantitative","scale":{"domain":[0,22.5],"range":[0,511],"nice":false,"zero":false},"axis":null},"y":{"field":"n","type":"quantitative","scale":{"domain":[2,6],"range":[238.3,610],"nice":false,"zero":false},"axis":null}}},
{"data":{"name":"dL"},"mark":{"type":"line","color":"#ff0000","strokeWidth":1.8},"encoding":{"x":{"field":"a","type":"quantitative","scale":{"domain":[0,22.5],"range":[0,511],"nice":false,"zero":false},"axis":null},"y":{"field":"n","type":"quantitative","scale":{"domain":[2,6],"range":[238.3,610],"nice":false,"zero":false},"axis":null}}},
{"data":{"name":"dL"},"mark":{"type":"circle","fill":"#ff0000","stroke":"#222222","strokeWidth":1,"size":175,"opacity":1},"encoding":{"x":{"field":"a","type":"quantitative","scale":{"domain":[0,22.5],"range":[0,511],"nice":false,"zero":false},"axis":null},"y":{"field":"n","type":"quantitative","scale":{"domain":[2,6],"range":[238.3,610],"nice":false,"zero":false},"axis":null}}},
{"data":{"name":"dR"},"mark":{"type":"rule","color":"#ff5050","strokeWidth":1.2,"opacity":0.9,"clip":true},"encoding":{"x":{"field":"lo","type":"quantitative","scale":{"domain":[120,145],"range":[567,1076],"nice":false,"zero":false},"axis":null},"x2":{"field":"hi"},"y":{"field":"n","type":"quantitative","scale":{"domain":[2,6],"range":[238.3,610],"nice":false,"zero":false},"axis":null}}},
{"data":{"name":"dR"},"transform":[{"fold":["lo","hi"],"as":["k","e"]}],"mark":{"type":"tick","orient":"vertical","color":"#ff5050","size":10,"thickness":1.2,"opacity":0.9,"clip":true},"encoding":{"x":{"field":"e","type":"quantitative","scale":{"domain":[120,145],"range":[567,1076],"nice":false,"zero":false},"axis":null},"y":{"field":"n","type":"quantitative","scale":{"domain":[2,6],"range":[238.3,610],"nice":false,"zero":false},"axis":null}}},
{"data":{"name":"dR"},"mark":{"type":"line","color":"#ff0000","strokeWidth":1.8,"clip":true},"encoding":{"x":{"field":"a","type":"quantitative","scale":{"domain":[120,145],"range":[567,1076],"nice":false,"zero":false},"axis":null},"y":{"field":"n","type":"quantitative","scale":{"domain":[2,6],"range":[238.3,610],"nice":false,"zero":false},"axis":null}}},
{"data":{"name":"dR"},"mark":{"type":"circle","fill":"#ff0000","stroke":"#222222","strokeWidth":1,"size":175,"opacity":1,"clip":true},"encoding":{"x":{"field":"a","type":"quantitative","scale":{"domain":[120,145],"range":[567,1076],"nice":false,"zero":false},"axis":null},"y":{"field":"n","type":"quantitative","scale":{"domain":[2,6],"range":[238.3,610],"nice":false,"zero":false},"axis":{"orient":"right","values":[2,2.5,3,3.5,4,4.5,5,5.5,6],"format":".1f","title":null}}}},
{"data":{"name":"tiL"},"mark":{"type":"line","color":"#a89600","strokeWidth":1.3},"encoding":{"x":{"field":"a","type":"quantitative","scale":{"domain":[0,22.5],"range":[0,511],"nice":false,"zero":false},"axis":null},"y":{"field":"v","type":"quantitative","scale":{"domain":[0,5],"range":[727,530],"nice":false,"zero":false},"axis":{"orient":"left","offset":-65,"values":[0.5,1.5,2.5,3.5,4.5],"labels":false,"title":null}}}},
{"data":{"name":"feL"},"mark":{"type":"line","color":"#1a9e1a","strokeWidth":1.3},"encoding":{"x":{"field":"a","type":"quantitative","scale":{"domain":[0,22.5],"range":[0,511],"nice":false,"zero":false},"axis":null},"y":{"field":"v","type":"quantitative","scale":{"domain":[0,5],"range":[727,530],"nice":false,"zero":false},"axis":null}}},
{"data":{"name":"tiR"},"mark":{"type":"line","color":"#a89600","strokeWidth":1.3},"encoding":{"x":{"field":"a","type":"quantitative","scale":{"domain":[120,145],"range":[567,1076],"nice":false,"zero":false},"axis":null},"y":{"field":"v","type":"quantitative","scale":{"domain":[0,5],"range":[727,530],"nice":false,"zero":false},"axis":null}}},
{"data":{"name":"feR"},"mark":{"type":"line","color":"#1a9e1a","strokeWidth":1.3},"encoding":{"x":{"field":"a","type":"quantitative","scale":{"domain":[120,145],"range":[567,1076],"nice":false,"zero":false},"axis":null},"y":{"field":"v","type":"quantitative","scale":{"domain":[0,5],"range":[727,530],"nice":false,"zero":false},"axis":null}}},
{"data":{"name":"hL"},"mark":{"type":"line","color":"#888888","strokeWidth":1.3},"encoding":{"x":{"field":"a","type":"quantitative","scale":{"domain":[0,22.5],"range":[0,511],"nice":false,"zero":false},"axis":null},"y":{"field":"h","type":"quantitative","scale":{"domain":[0,150],"range":[845,640],"nice":false,"zero":false},"axis":{"orient":"right","offset":-565,"values":[0,50,100,150],"title":null}}}},
{"data":{"name":"i3"},"mark":{"type":"line","color":"#bbbbbb","strokeWidth":1.3},"encoding":{"x":{"field":"a","type":"quantitative","scale":{"domain":[120,145],"range":[567,1076],"nice":false,"zero":false},"axis":null},"y":{"field":"f","type":"quantitative","scale":{"domain":[0,39.6],"range":[845,610],"nice":false,"zero":false},"axis":{"orient":"right","values":[0,10,20,30],"title":"IRD flux (grains kyr⁻¹ cm⁻²)","titleFontSize":21,"titleY":755,"titlePadding":8}}}},
{"data":{"name":"i2"},"mark":{"type":"line","color":"#707070","strokeWidth":1.3},"encoding":{"x":{"field":"a","type":"quantitative","scale":{"domain":[120,145],"range":[567,1076],"nice":false,"zero":false},"axis":null},"y":{"field":"f","type":"quantitative","scale":{"domain":[0,39.6],"range":[845,610],"nice":false,"zero":false},"axis":null}}},
{"data":{"name":"i1"},"mark":{"type":"line","color":"#333333","strokeWidth":1.3},"encoding":{"x":{"field":"a","type":"quantitative","scale":{"domain":[120,145],"range":[567,1076],"nice":false,"zero":false},"axis":null},"y":{"field":"f","type":"quantitative","scale":{"domain":[0,39.6],"range":[845,610],"nice":false,"zero":false},"axis":null}}},
{"data":{"name":"irdL"},"mark":{"type":"rule","color":"#ff8c1a","strokeWidth":3},"encoding":{"x":{"field":"a","type":"quantitative","scale":{"domain":[0,22.5],"range":[0,511],"nice":false,"zero":false},"axis":null},"y":{"field":"c","type":"quantitative","scale":{"domain":[0,2.25],"range":[845,638],"nice":false,"zero":false},"axis":{"orient":"left","values":[0,0.5,1,1.5,2],"format":".1f","title":"PAZ IRD count (grains dm⁻³)","titleColor":"#ff8c00","titleFontSize":22}},"y2":{"datum":0}}},
{"data":{"name":"irdR"},"mark":{"type":"rule","color":"#ff8c1a","strokeWidth":3},"encoding":{"x":{"field":"a","type":"quantitative","scale":{"domain":[120,145],"range":[567,1076],"nice":false,"zero":false},"axis":null},"y":{"field":"c","type":"quantitative","scale":{"domain":[0,2.25],"range":[845,638],"nice":false,"zero":false},"axis":null},"y2":{"datum":0}}},
{"data":{"name":"labL"},"mark":{"type":"text","font":"Liberation Sans","fontSize":29,"align":"center","baseline":"middle","color":"#000000"},"encoding":{"x":{"field":"a","type":"quantitative","scale":{"domain":[0,22.5],"range":[0,511],"nice":false,"zero":false},"axis":null},"y":{"field":"n","type":"quantitative","scale":{"domain":[2,6],"range":[238.3,610],"nice":false,"zero":false},"axis":null},"text":{"field":"t"}}},
{"data":{"name":"labR"},"mark":{"type":"text","font":"Liberation Sans","fontSize":29,"align":"center","baseline":"middle","color":"#000000"},"encoding":{"x":{"field":"a","type":"quantitative","scale":{"domain":[120,145],"range":[567,1076],"nice":false,"zero":false},"axis":null},"y":{"field":"n","type":"quantitative","scale":{"domain":[2,6],"range":[238.3,610],"nice":false,"zero":false},"axis":null},"text":{"field":"t"}}},
{"data":{"name":"labE"},"mark":{"type":"text","font":"Liberation Sans","fontSize":29,"fontWeight":"bold","align":"center","baseline":"middle","color":"#000000"},"encoding":{"x":{"field":"a","type":"quantitative","scale":{"domain":[120,145],"range":[567,1076],"nice":false,"zero":false},"axis":null},"y":{"field":"n","type":"quantitative","scale":{"domain":[2,6],"range":[238.3,610],"nice":false,"zero":false},"axis":null},"text":{"field":"t"}}},
{"data":{"name":"rtitle"},"mark":{"type":"text","font":"Liberation Sans","fontSize":21,"angle":90,"align":"left","baseline":"middle"},"encoding":{"x":{"field":"a","type":"quantitative","scale":{"domain":[120,145],"range":[567,1076],"nice":false,"zero":false},"axis":null},"y":{"field":"n","type":"quantitative","scale":{"domain":[2,6],"range":[238.3,610],"nice":false,"zero":false},"axis":null},"text":{"field":"t"},"color":{"field":"c","type":"nominal","scale":null}}},
{"data":{"name":"pazlab"},"mark":{"type":"text","font":"Liberation Sans","fontSize":19,"angle":270,"align":"center","baseline":"middle"},"encoding":{"x":{"field":"a","type":"quantitative","scale":{"domain":[0,22.5],"range":[0,511],"nice":false,"zero":false},"axis":null},"y":{"field":"v","type":"quantitative","scale":{"domain":[0,5],"range":[727,530],"nice":false,"zero":false},"axis":null},"text":{"field":"t"},"color":{"field":"c","type":"nominal","scale":null}}}
]
}
